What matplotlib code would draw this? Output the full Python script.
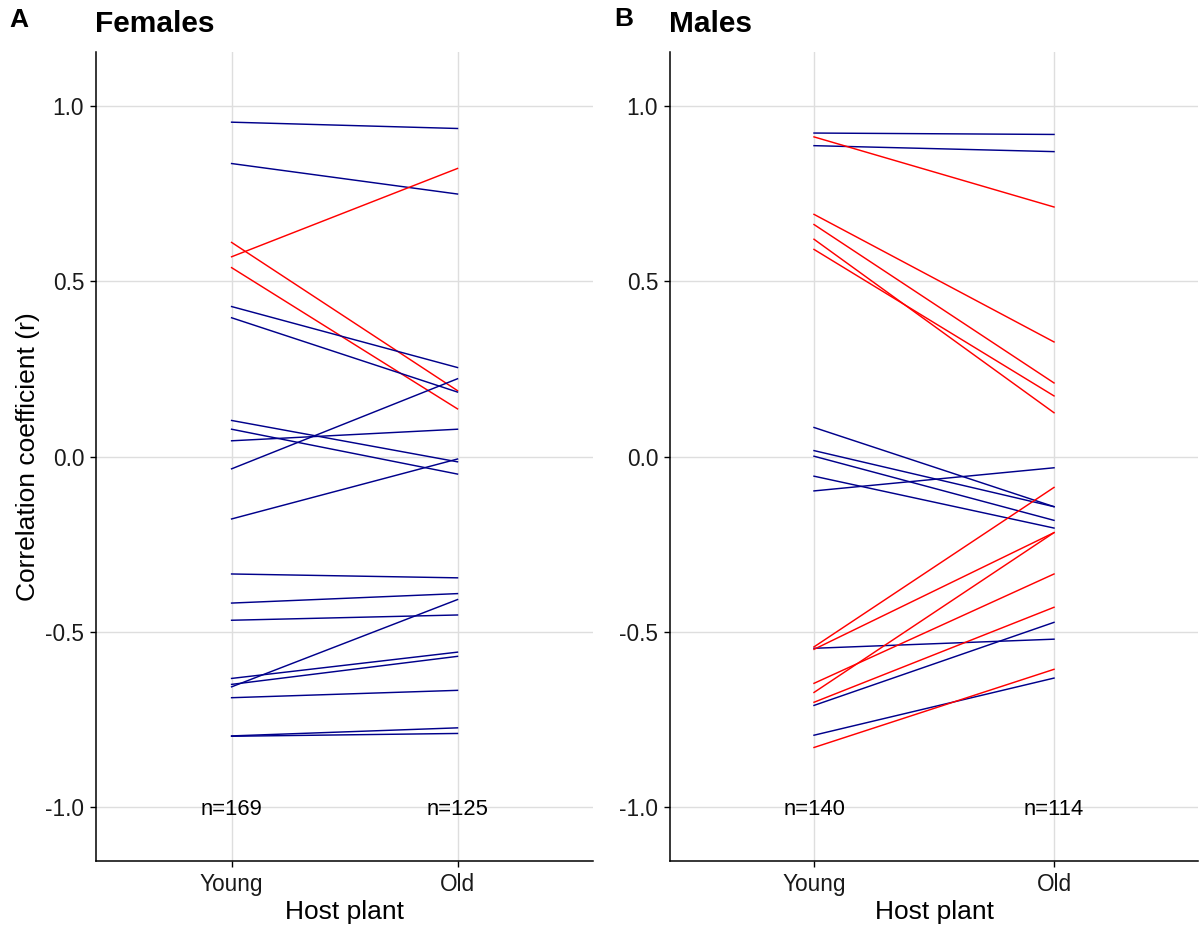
import matplotlib
matplotlib.use("Agg")
import matplotlib.pyplot as plt

plt.rcParams['font.family'] = ['Liberation Sans', 'DejaVu Sans']

##############################################################################
# Data
##############################################################################

hosts = ["Young", "Old"]

# Females: correlation on young and old host plant, red = changed
females_young = [0.954, 0.836, 0.611, 0.570, 0.539, 0.428, 0.396, 0.103,
                 0.078, 0.045, -0.035, -0.178, -0.335, -0.418, -0.467,
                 -0.633, -0.650, -0.657, -0.688, -0.797, -0.798]
females_old = [0.936, 0.749, 0.188, 0.822, 0.136, 0.254, 0.184, -0.015,
               -0.050, 0.078, 0.222, -0.007, -0.346, -0.391, -0.452,
               -0.558, -0.570, -0.408, -0.667, -0.774, -0.790]
females_changed = [0, 0, 1, 1, 1, 0, 0, 0, 0, 0, 0, 0, 0, 0, 0, 0, 0, 0, 0,
                   0, 0]
females_n = [169, 125]

# Males
males_young = [0.923, 0.887, 0.912, 0.691, 0.662, 0.620, 0.591, 0.083,
               0.017, 0.001, -0.056, -0.098, -0.547, -0.710, -0.795,
               -0.543, -0.550, -0.647, -0.673, -0.701, -0.830]
males_old = [0.919, 0.870, 0.712, 0.327, 0.210, 0.125, 0.173, -0.143,
             -0.143, -0.182, -0.204, -0.032, -0.521, -0.473, -0.632,
             -0.088, -0.217, -0.335, -0.217, -0.430, -0.607]
males_changed = [0, 0, 1, 1, 1, 1, 1, 0, 0, 0, 0, 0, 0, 0, 0, 1, 1, 1, 1,
                 1, 1]
males_n = [140, 114]

yticks = [-1.0, -0.5, 0.0, 0.5, 1.0]
ytick_labels = ["-1.0", "-0.5", "0.0", "0.5", "1.0"]

line_colors = {0: "#00008B", 1: "#FF0000"}


def draw_panel(ax, young, old, changed, n_counts):
    for y0, y1, c in zip(young, old, changed):
        ax.plot([0, 1], [y0, y1], color=line_colors[c], lw=1.05, zorder=3)
    for i, n in enumerate(n_counts):
        ax.annotate("n={}".format(n), xy=(i, -1.0), xytext=(0, -5.6),
                    textcoords="offset points", ha="center", va="baseline",
                    fontsize=15.8, color="black", zorder=4)
    ax.set_xlim(-0.6, 1.6)
    ax.set_ylim(-1.154, 1.154)
    ax.set_xticks(range(len(hosts)))
    ax.set_xticklabels(hosts)
    ax.set_yticks(yticks)
    ax.set_yticklabels(ytick_labels)
    ax.grid(True, color="#dedede", lw=1.0)
    ax.set_axisbelow(True)
    for s in ["top", "right"]:
        ax.spines[s].set_visible(False)
    for s in ["left", "bottom"]:
        ax.spines[s].set_linewidth(1.1)
        ax.spines[s].set_color("black")
    ax.tick_params(axis="both", length=4.5, width=1.0, color="black",
                   labelsize=16.3, labelcolor="#1a1a1a")
    ax.tick_params(axis="y", pad=4.0)
    ax.tick_params(axis="x", pad=3.8)
    ax.set_xlabel("Host plant", fontsize=19, labelpad=3.2)
    ax.set_ylabel("Correlation coefficient (r)", fontsize=19, labelpad=3.5)


fig = plt.figure(figsize=(12.02, 9.35), dpi=100)
ax_f = fig.add_axes([0.0799, 0.0791, 0.4135, 0.8652])
ax_m = fig.add_axes([0.5574, 0.0791, 0.4393, 0.8652])

draw_panel(ax_f, females_young, females_old, females_changed, females_n)
draw_panel(ax_m, males_young, males_old, males_changed, males_n)
ax_m.set_ylabel("")

fig.text(0.0075, 0.9715, "A", fontsize=19, fontweight="bold", va="baseline")
fig.text(0.079, 0.9655, "Females", fontsize=21.5, fontweight="bold",
         va="baseline")
fig.text(0.5110, 0.9722, "B", fontsize=19, fontweight="bold", va="baseline")
fig.text(0.5562, 0.9655, "Males", fontsize=21.5, fontweight="bold",
         va="baseline")

fig.savefig("out.png", dpi=100)
